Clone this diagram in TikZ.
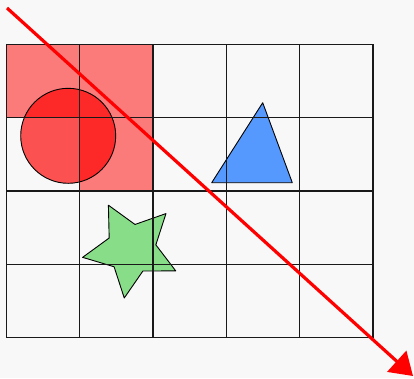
\documentclass[tikz,border=0pt]{standalone}
\usetikzlibrary{arrows.meta,calc}
\definecolor{bg}{RGB}{248,248,248}
\definecolor{tri}{RGB}{85,153,255}
\definecolor{starg}{RGB}{136,221,136}
\tikzset{
  gridline/.style={draw=black!90, line width=1.3pt},
  shapeline/.style={draw=black, line width=0.9pt, line join=round},
  shade/.style={fill=red, fill opacity=0.5},
}
\begin{document}
\begin{tikzpicture}[x=1pt,y=-1pt]
\fill[bg] (0,0) rectangle (414,378);
\useasboundingbox (0,0) rectangle (414,378);
% shaded cells
\fill[shade] (6.5,44.3) rectangle (153.1,117.6);
\fill[shade] (79.8,117.6) rectangle (153.1,190.9);
% circle
\draw[shapeline, fill=red, fill opacity=0.67] (68.2,135.8) circle (47.5);
% triangle
\draw[shapeline, fill=tri] (211.7,182.7) -- (262.7,102.7) -- (292.3,182.7) -- cycle;
% star
\coordinate (sc) at (131.4,249);
\draw[shapeline, fill=starg]
  ($(sc)+(-117.7:49.5)$) -- ($(sc)+(-81.7:24.8)$) --
  ($(sc)+(-45.7:49.5)$) -- ($(sc)+(-9.7:24.8)$) --
  ($(sc)+(26.3:49.5)$) -- ($(sc)+(62.3:24.8)$) --
  ($(sc)+(98.3:49.5)$) -- ($(sc)+(134.3:24.8)$) --
  ($(sc)+(170.3:49.5)$) -- ($(sc)+(-153.7:24.8)$) -- cycle;
% grid
\foreach \i in {0,...,5} {
  \draw[gridline] ({6.5+73.3*\i},44.3) -- ({6.5+73.3*\i},337.5);
}
\foreach \j in {0,...,4} {
  \draw[gridline] (6.5,{44.3+73.3*\j}) -- (373,{44.3+73.3*\j});
}
% arrow
\coordinate (a0) at (7,8);
\coordinate (a1) at (413,376);
\draw[red, line width=3.2pt, -{Triangle[length=22pt,width=28pt]}] (a0) -- (a1);
\end{tikzpicture}
\end{document}
